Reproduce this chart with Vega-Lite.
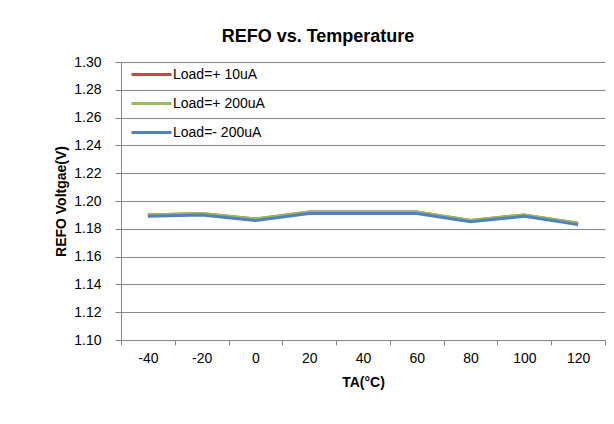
{
  "$schema": "https://vega.github.io/schema/vega-lite/v6.json",
  "width": 484,
  "height": 278,
  "autosize": {"type": "none"},
  "padding": {"left": 121, "top": 62, "right": 9, "bottom": 84},
  "background": "white",
  "config": {
    "font": "Liberation Sans",
    "view": {"stroke": null}
  },
  "title": {
    "text": "REFO vs. Temperature",
    "fontSize": 18,
    "fontWeight": "bold",
    "color": "#000000",
    "anchor": "middle",
    "frame": "group",
    "dx": -45,
    "offset": 7
  },
  "data": {
    "values": [
      {"T": -40, "Load": "Load=+ 10uA", "V": 1.190},
      {"T": -20, "Load": "Load=+ 10uA", "V": 1.191},
      {"T": 0, "Load": "Load=+ 10uA", "V": 1.187},
      {"T": 20, "Load": "Load=+ 10uA", "V": 1.192},
      {"T": 40, "Load": "Load=+ 10uA", "V": 1.192},
      {"T": 60, "Load": "Load=+ 10uA", "V": 1.192},
      {"T": 80, "Load": "Load=+ 10uA", "V": 1.186},
      {"T": 100, "Load": "Load=+ 10uA", "V": 1.190},
      {"T": 120, "Load": "Load=+ 10uA", "V": 1.184},
      {"T": -40, "Load": "Load=+ 200uA", "V": 1.190},
      {"T": -20, "Load": "Load=+ 200uA", "V": 1.191},
      {"T": 0, "Load": "Load=+ 200uA", "V": 1.187},
      {"T": 20, "Load": "Load=+ 200uA", "V": 1.192},
      {"T": 40, "Load": "Load=+ 200uA", "V": 1.192},
      {"T": 60, "Load": "Load=+ 200uA", "V": 1.192},
      {"T": 80, "Load": "Load=+ 200uA", "V": 1.186},
      {"T": 100, "Load": "Load=+ 200uA", "V": 1.190},
      {"T": 120, "Load": "Load=+ 200uA", "V": 1.184},
      {"T": -40, "Load": "Load=- 200uA", "V": 1.189},
      {"T": -20, "Load": "Load=- 200uA", "V": 1.190},
      {"T": 0, "Load": "Load=- 200uA", "V": 1.186},
      {"T": 20, "Load": "Load=- 200uA", "V": 1.191},
      {"T": 40, "Load": "Load=- 200uA", "V": 1.191},
      {"T": 60, "Load": "Load=- 200uA", "V": 1.191},
      {"T": 80, "Load": "Load=- 200uA", "V": 1.185},
      {"T": 100, "Load": "Load=- 200uA", "V": 1.189},
      {"T": 120, "Load": "Load=- 200uA", "V": 1.183}
    ]
  },
  "mark": {"type": "line", "strokeWidth": 3},
  "encoding": {
    "x": {
      "field": "T",
      "type": "ordinal",
      "sort": [-40, -20, 0, 20, 40, 60, 80, 100, 120],
      "scale": {"paddingInner": 0, "paddingOuter": 0},
      "axis": {
        "title": "TA(°C)",
        "titleFontSize": 14,
        "titleFontWeight": "bold",
        "titleColor": "#000000",
        "titlePadding": 10,
        "labelAngle": 0,
        "labelFontSize": 14,
        "labelColor": "#000000",
        "labelPadding": 6,
        "tickBand": "extent",
        "tickSize": 5,
        "tickColor": "#868686",
        "domainColor": "#868686",
        "grid": false
      }
    },
    "y": {
      "field": "V",
      "type": "quantitative",
      "scale": {"domain": [1.1, 1.3], "nice": false, "zero": false},
      "axis": {
        "title": "REFO Voltgae(V)",
        "titleFontSize": 14,
        "titleFontWeight": "bold",
        "titleColor": "#000000",
        "titleX": -60,
        "titleY": 139,
        "titleAngle": -90,
        "titleAlign": "center",
        "titleBaseline": "middle",
        "values": [1.1, 1.12, 1.14, 1.16, 1.18, 1.2, 1.22, 1.24, 1.26, 1.28, 1.3],
        "format": ".2f",
        "labelFontSize": 14,
        "labelColor": "#000000",
        "labelPadding": 14,
        "tickSize": 6,
        "tickColor": "#868686",
        "domainColor": "#868686",
        "grid": true,
        "gridColor": "#868686",
        "gridWidth": 1
      }
    },
    "color": {
      "field": "Load",
      "type": "nominal",
      "sort": ["Load=+ 10uA", "Load=+ 200uA", "Load=- 200uA"],
      "scale": {
        "domain": ["Load=+ 10uA", "Load=+ 200uA", "Load=- 200uA"],
        "range": ["#BE4B48", "#9BBB59", "#4F81BD"]
      },
      "legend": {
        "title": null,
        "orient": "none",
        "legendX": 9,
        "legendY": -9,
        "symbolType": "stroke",
        "symbolSize": 1600,
        "symbolStrokeWidth": 3,
        "labelFontSize": 14,
        "labelColor": "#000000",
        "labelOffset": 0,
        "rowPadding": -11
      }
    }
  }
}
